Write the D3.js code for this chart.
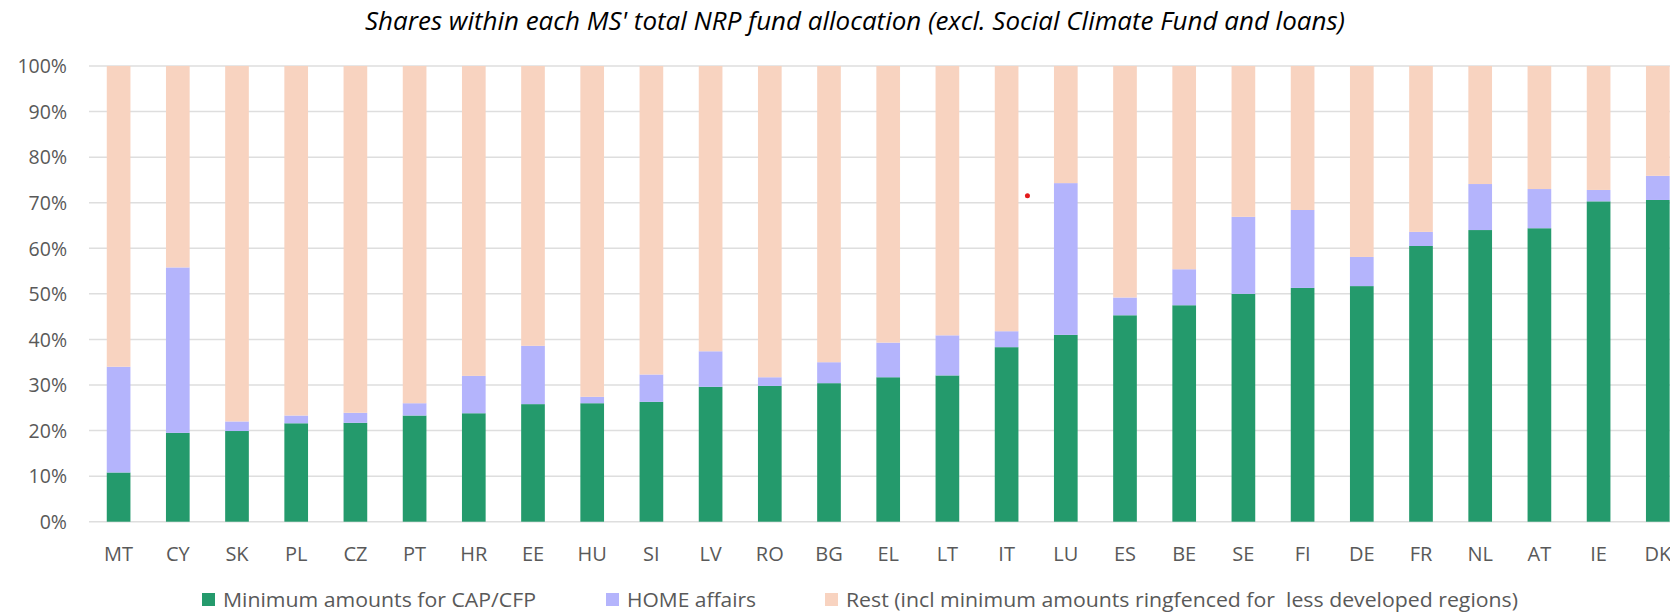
<!DOCTYPE html>
<html>
<head>
<meta charset="utf-8">
<script src="https://cdn.jsdelivr.net/npm/d3@7"></script>
<style>
  html, body { margin: 0; padding: 0; background: #fff; }
  svg { display: block; }
</style>
</head>
<body>
<svg id="chart" width="1670" height="615"></svg>
<script>
const categories = ["MT","CY","SK","PL","CZ","PT","HR","EE","HU","SI","LV","RO","BG","EL","LT","IT","LU","ES","BE","SE","FI","DE","FR","NL","AT","IE","DK"];
const capCfp = [10.8,19.5,19.9,21.6,21.7,23.3,23.8,25.8,26.0,26.3,29.6,29.8,30.4,31.7,32.1,38.3,41.0,45.3,47.5,50.0,51.3,51.7,60.5,64.0,64.4,70.3,70.6];
const homeAffairs = [23.2,36.3,2.1,1.7,2.2,2.7,8.2,12.8,1.4,6.0,7.8,1.9,4.6,7.6,8.8,3.5,33.3,3.9,7.9,16.9,17.1,6.4,3.1,10.1,8.6,2.5,5.3];
const rest = capCfp.map((v, i) => 100 - v - homeAffairs[i]);
const yTicks = [0,10,20,30,40,50,60,70,80,90,100];
const seriesNames = ["Minimum amounts for CAP/CFP", "HOME affairs", "Rest (incl minimum amounts ringfenced for  less developed regions)"];
const seriesKeys = ["cap", "home", "rest"];
const colors = ["#249A6C", "#B4B4FC", "#F8D3C0"];
const title = "Shares within each MS' total NRP fund allocation (excl. Social Climate Fund and loans)";

const rows = categories.map((c, i) => ({ cat: c, cap: capCfp[i], home: homeAffairs[i], rest: rest[i] }));

const svg = d3.select("#chart");
const W = 1670, H = 615;
const plotLeft = 89, step = 59.2;
const plotTop = 66, plotBottom = 521.7;

const x = d3.scaleBand().domain(categories)
  .range([plotLeft, plotLeft + categories.length * step])
  .paddingInner(0.6).paddingOuter(0.3);
const y = d3.scaleLinear().domain([0, 100]).range([plotBottom, plotTop]);

const font = "'Open Sans', 'Noto Sans', sans-serif";

// title
svg.append("text")
  .attr("x", 855).attr("y", 30)
  .attr("text-anchor", "middle")
  .attr("font-family", font)
  .attr("font-style", "italic")
  .attr("font-size", 25)
  .attr("textLength", 980)
  .attr("lengthAdjust", "spacingAndGlyphs")
  .attr("fill", "#000")
  .text(title);

// gridlines
svg.append("g").selectAll("line").data(yTicks).join("line")
  .attr("x1", plotLeft).attr("x2", W)
  .attr("y1", d => y(d)).attr("y2", d => y(d))
  .attr("stroke", "#DEDEDE").attr("stroke-width", 1.5);

// y axis labels
const yAxis = d3.axisLeft(y).tickValues(yTicks).tickFormat(d => d + "%").tickSize(0).tickPadding(0);
const yg = svg.append("g").attr("transform", `translate(${67},0)`).call(yAxis);
yg.select(".domain").remove();
yg.selectAll("text").attr("font-family", font).attr("font-size", 19.5).attr("fill", "#595959").attr("dy", "0.35em");

// stacked bars
const stack = d3.stack().keys(seriesKeys);
const stacked = stack(rows);
svg.append("g").selectAll("g").data(stacked).join("g")
  .attr("fill", (d, i) => colors[i])
  .selectAll("rect").data(d => d).join("rect")
  .attr("x", d => x(d.data.cat))
  .attr("width", x.bandwidth())
  .attr("y", d => y(d[1]))
  .attr("height", d => y(d[0]) - y(d[1]));

// x axis labels
const xAxis = d3.axisBottom(x).tickSize(0).tickPadding(0);
const xg = svg.append("g").attr("transform", `translate(0,${554})`).call(xAxis);
xg.select(".domain").remove();
xg.selectAll("text").attr("font-family", font).attr("font-size", 20).attr("fill", "#595959").attr("dy", "0.35em");

// small red dot artifact near IT
svg.append("circle")
  .attr("cx", x("IT") + x.bandwidth() + 9)
  .attr("cy", y(71.5))
  .attr("r", 2.5).attr("fill", "#E31A1C");

// legend
const legendX = [202, 606, 825];
const legendLen = [313, 129, 672];
const lg = svg.append("g");
seriesNames.forEach((n, i) => {
  lg.append("rect").attr("x", legendX[i]).attr("y", 593).attr("width", 13).attr("height", 13).attr("fill", colors[i]);
  lg.append("text").attr("x", legendX[i] + 21).attr("y", 600).attr("dy", "0.35em")
    .attr("font-family", font).attr("font-size", 20).attr("fill", "#595959")
    .attr("xml:space", "preserve").style("white-space", "pre")
    .attr("textLength", legendLen[i]).attr("lengthAdjust", "spacingAndGlyphs")
    .text(n);
});
</script>
</body>
</html>
